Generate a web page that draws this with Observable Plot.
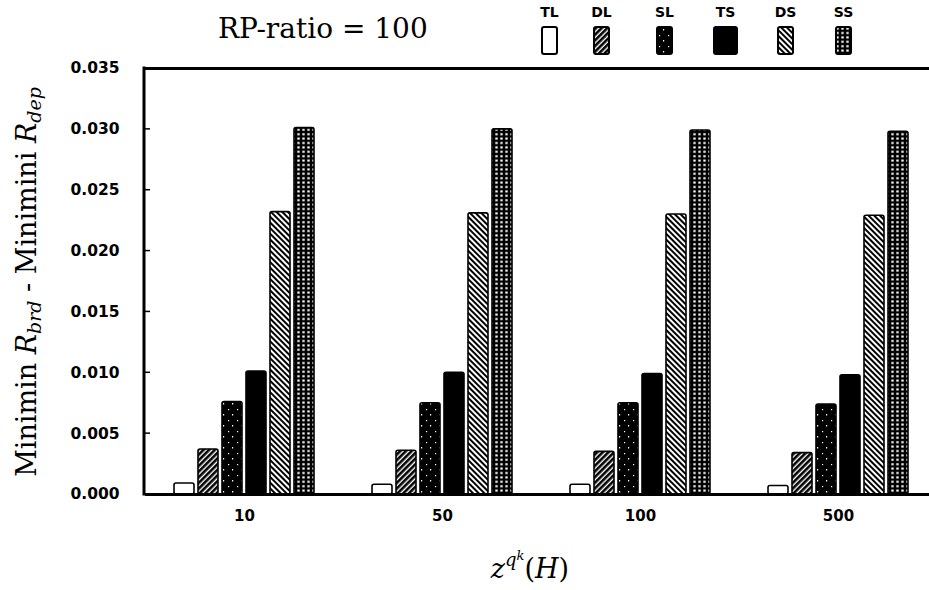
<!DOCTYPE html>
<html><head><meta charset="utf-8">
<script src="https://cdn.jsdelivr.net/npm/d3@7"></script>
<script src="https://cdn.jsdelivr.net/npm/@observablehq/plot@0.6"></script>
<style>
body{margin:0;background:#fff}
#chart{width:929px;height:590px;overflow:hidden}
</style>
</head><body><div id="chart"></div>
<script>
// ---- data ----
const groups = ["10", "50", "100", "500"];
const series = ["TL", "DL", "SL", "TS", "DS", "SS"];
const values10  = [0.0009, 0.0037, 0.0076, 0.0101, 0.0232, 0.0301];
const values50  = [0.0008, 0.0036, 0.0075, 0.0100, 0.0231, 0.0300];
const values100 = [0.0008, 0.0035, 0.0075, 0.0099, 0.0230, 0.0299];
const values500 = [0.0007, 0.0034, 0.0074, 0.0098, 0.0229, 0.0298];
const yTicks = [0, 0.005, 0.010, 0.015, 0.020, 0.025, 0.030, 0.035];
const yTickLabels = ["0.000", "0.005", "0.010", "0.015", "0.020", "0.025", "0.030", "0.035"];
const title = "RP-ratio = 100";

const valuesByGroup = [values10, values50, values100, values500];
const data = groups.flatMap((g, i) => series.map((s, j) => ({group: g, series: s, value: valuesByGroup[i][j]})));
const tickLabel = new Map(yTicks.map((t, i) => [t, yTickLabels[i]]));
const fillFor = s => s === "TL" ? "white" : s === "TS" ? "black" : `url(#pat-${s})`;

const plot = Plot.plot({
  width: 929, height: 590,
  marginLeft: 144, marginRight: -8, marginTop: 68, marginBottom: 96,
  style: {background: "white", color: "black"},
  fx: {domain: groups, padding: 0, label: null},
  x: {domain: series, paddingInner: 0.18, paddingOuter: 1.145, axis: null},
  y: {domain: [0, 0.035]},
  color: {domain: series, range: series.map(fillFor)},
  marks: [
    Plot.barY(data, {fx: "group", x: "series", y: "value", fill: "series", stroke: "black", strokeWidth: 1.6, rx: 2}),
    Plot.ruleY([0], {stroke: "black", strokeWidth: 3}),
    Plot.ruleY([0.035], {stroke: "black", strokeWidth: 3}),
    Plot.axisY({ticks: yTicks, tickFormat: d => tickLabel.get(d), tickSize: 0, tickPadding: 26,
      fontSize: 15.5, fontWeight: "bold", fontFamily: "DejaVu Sans", label: null}),
    Plot.axisFx({anchor: "bottom", tickSize: 0, tickPadding: 16, fontSize: 15, fontWeight: "bold", fontFamily: "DejaVu Sans", label: null})
  ]
});
document.getElementById("chart").append(plot);

// ---- patterns and chrome ----
const svg = d3.select(plot);
const defs = svg.insert("defs", ":first-child");
function stripes(id, angle, w, gap, bg, fg) {
  const p = defs.append("pattern").attr("id", id).attr("patternUnits", "userSpaceOnUse")
    .attr("width", w + gap).attr("height", w + gap).attr("patternTransform", `rotate(${angle})`);
  p.append("rect").attr("width", w + gap).attr("height", w + gap).attr("fill", bg);
  p.append("rect").attr("width", w).attr("height", w + gap).attr("fill", fg);
}
stripes("pat-DL", 45, 2.6, 1.4, "white", "black");
stripes("pat-DS", -45, 2, 2, "white", "black");
{
  const p = defs.append("pattern").attr("id", "pat-SL").attr("patternUnits", "userSpaceOnUse").attr("width", 9).attr("height", 11);
  p.append("rect").attr("width", 9).attr("height", 11).attr("fill", "black");
  p.append("rect").attr("x", 2).attr("y", 2).attr("width", 1.2).attr("height", 1.2).attr("fill", "white");
  p.append("rect").attr("x", 6).attr("y", 7).attr("width", 1.2).attr("height", 1.5).attr("fill", "white");
}
{
  const p = defs.append("pattern").attr("id", "pat-SS").attr("patternUnits", "userSpaceOnUse").attr("width", 5).attr("height", 4.4);
  p.append("rect").attr("width", 5).attr("height", 4.4).attr("fill", "black");
  p.append("rect").attr("x", 1.3).attr("y", 1.2).attr("width", 2.4).attr("height", 2).attr("fill", "white");
}

const y = plot.scale("y");
const [yBottom, yTop] = [y.apply(0), y.apply(0.035)];
svg.append("line").attr("x1", 144).attr("x2", 144).attr("y1", yTop - 1.5).attr("y2", yBottom + 1.5)
  .attr("stroke", "black").attr("stroke-width", 3);
// inward tick marks at the y scale's ticks
svg.append("g").selectAll("line").data(yTicks.slice(1, -1)).join("line")
  .attr("x1", 144).attr("x2", 150).attr("y1", d => y.apply(d)).attr("y2", d => y.apply(d))
  .attr("stroke", "black").attr("stroke-width", 1.5);

// title
svg.append("text").attr("x", 218).attr("y", 38).attr("text-anchor", "start")
  .attr("font-family", "DejaVu Serif").attr("font-size", 28).text(title);

// legend
const legendX = [542, 594, 657, 714, 778, 836];
const legendW = [15, 15, 15, 23, 15, 15];
series.forEach((s, i) => {
  svg.append("text").attr("x", legendX[i] + legendW[i] / 2).attr("y", 17).attr("text-anchor", "middle")
    .attr("font-family", "DejaVu Sans").attr("font-weight", "bold").attr("font-size", 14).text(s);
  svg.append("rect").attr("x", legendX[i]).attr("y", 27).attr("width", legendW[i]).attr("height", 27)
    .attr("rx", 2).attr("fill", fillFor(s)).attr("stroke", "black").attr("stroke-width", 2);
});

// y label
const yl = svg.append("text").attr("transform", "translate(36,282) rotate(-90)").attr("text-anchor", "middle")
  .attr("font-family", "DejaVu Serif").attr("font-size", 27);
yl.append("tspan").text("Minimin ");
yl.append("tspan").attr("font-style", "italic").text("R");
yl.append("tspan").attr("font-style", "italic").attr("font-size", 19).attr("dy", 5).text("brd");
yl.append("tspan").attr("dy", -5).text(" - Minimini ");
yl.append("tspan").attr("font-style", "italic").text("R");
yl.append("tspan").attr("font-style", "italic").attr("font-size", 19).attr("dy", 5).text("dep");

// x label
const xl = svg.append("text").attr("x", 530).attr("y", 578).attr("text-anchor", "middle")
  .attr("font-family", "DejaVu Serif").attr("font-size", 27);
xl.append("tspan").attr("font-style", "italic").text("z");
xl.append("tspan").attr("font-style", "italic").attr("font-size", 18).attr("dy", -12).text("q");
xl.append("tspan").attr("font-style", "italic").attr("font-size", 13).attr("dy", -6).text("k");
xl.append("tspan").attr("dy", 18).text("(");
xl.append("tspan").attr("font-style", "italic").text("H");
xl.append("tspan").text(")");
</script>
</body></html>
